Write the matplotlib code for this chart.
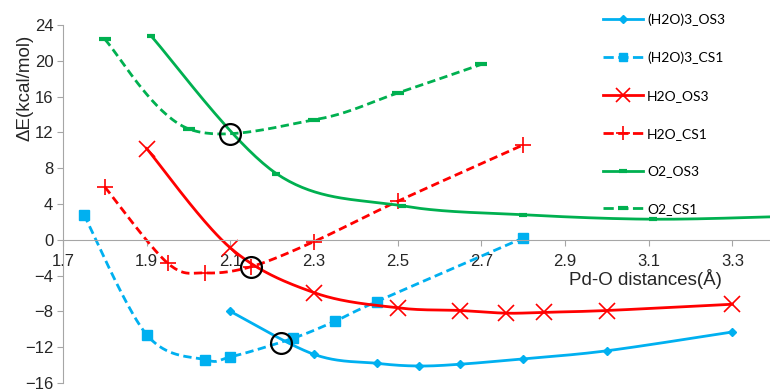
import numpy as np
import matplotlib
matplotlib.use("Agg")
import matplotlib.pyplot as plt
from matplotlib.lines import Line2D

# ---------------------------------------------------------------------------- #
# data (x = Pd-O distance, y = dE in kcal/mol)

w3_os3_x = [2.10, 2.30, 2.45, 2.55, 2.65, 2.80, 3.00, 3.30]
w3_os3_y = [-8.0, -12.8, -13.8, -14.1, -13.9, -13.3, -12.4, -10.3]

w3_cs1_x = [1.75, 1.90, 2.04, 2.10, 2.25, 2.35, 2.45, 2.80]
w3_cs1_y = [2.8, -10.6, -13.4, -13.1, -11.0, -9.1, -6.9, 0.2]

h2o_os3_x = [1.90, 2.10, 2.30, 2.50, 2.65, 2.76, 2.85, 3.00, 3.30]
h2o_os3_y = [10.2, -0.9, -5.9, -7.6, -7.9, -8.2, -8.1, -7.9, -7.2]

h2o_cs1_x = [1.80, 1.95, 2.04, 2.15, 2.30, 2.50, 2.80]
h2o_cs1_y = [5.9, -2.6, -3.7, -3.0, -0.2, 4.3, 10.6]

o2_os3_x = [1.91, 2.21, 2.51, 2.80, 3.11, 3.42]
o2_os3_y = [22.8, 7.4, 3.8, 2.8, 2.3, 2.6]

o2_cs1_x = [1.80, 2.00, 2.30, 2.50, 2.70]
o2_cs1_y = [22.4, 12.4, 13.4, 16.4, 19.6]

# crossing points marked with black circles
cross_x = [2.10, 2.15, 2.22]
cross_y = [11.8, -3.0, -11.5]

labels = ["(H2O)3_OS3", "(H2O)3_CS1", "H2O_OS3", "H2O_CS1", "O2_OS3", "O2_CS1"]

# ---------------------------------------------------------------------------- #
# excel-ish smoothed line (catmull-rom through the points)

def smooth(x, y, n=40):
    p = np.column_stack([x, y]).astype(float)
    p = np.vstack([p[0], p, p[-1]])
    out = []
    t = np.linspace(0, 1, n)[:, None]
    for i in range(1, len(p) - 2):
        p0, p1, p2, p3 = p[i - 1], p[i], p[i + 1], p[i + 2]
        c1 = p1 + (p2 - p0) / 6
        c2 = p2 - (p3 - p1) / 6
        seg = ((1 - t) ** 3) * p1 + 3 * ((1 - t) ** 2) * t * c1 \
            + 3 * (1 - t) * t ** 2 * c2 + t ** 3 * p2
        out.append(seg)
    out = np.vstack(out)
    return out[:, 0], out[:, 1]

blue = "#00B0F0"
red = "#FF0000"
green = "#00B050"

series = [
    (w3_os3_x, w3_os3_y, blue, "-", "D", 4, 1),
    (w3_cs1_x, w3_cs1_y, blue, "--", "s", 7, 1),
    (h2o_os3_x, h2o_os3_y, red, "-", "x", 11, 1.2),
    (h2o_cs1_x, h2o_cs1_y, red, "--", "+", 11, 1.2),
    (o2_os3_x, o2_os3_y, green, "-", "_", 6, 3),
    (o2_cs1_x, o2_cs1_y, green, "--", "_", 8, 3),
]

plt.rcParams["font.family"] = ["Liberation Sans", "DejaVu Sans"]

fig = plt.figure(figsize=(7.7, 3.91), dpi=100)
ax = fig.add_axes([63 / 770, 8 / 391, 1 - 63 / 770, 358 / 391])

handles = []
for (x, y, c, ls, m, ms, mew), lab in zip(series, labels):
    sx, sy = smooth(x, y)
    if ls == "--":
        ax.plot(sx, sy, color=c, lw=2, ls="--", dashes=(3, 1.6))
    else:
        ax.plot(sx, sy, color=c, lw=2)
    ax.plot(x, y, ls="none", marker=m, ms=ms, mew=mew, color=c, mec=c)
    handles.append(Line2D([], [], color=c, ls=ls, lw=2, marker=m, ms=ms * 0.9,
                          mew=mew, mec=c))

ax.plot(cross_x, cross_y, ls="none", marker="o", ms=15, mfc="none",
        mec="black", mew=1.6, zorder=5)

ax.set_xlim(1.7, 3.39)
ax.set_ylim(-16, 24)
ax.set_xticks(np.arange(1.7, 3.31, 0.2))
ax.set_xticklabels(["1.7", "1.9", "2.1", "2.3", "2.5", "2.7", "2.9", "3.1", "3.3"])
ax.set_yticks(np.arange(-16, 25, 4))

for s in ["top", "right"]:
    ax.spines[s].set_visible(False)
ax.spines["bottom"].set_position(("data", 0))
ax.spines["bottom"].set_color("#A6A6A6")
ax.spines["left"].set_color("#A6A6A6")
ax.tick_params(axis="both", colors="#A6A6A6", labelcolor="#262626",
               labelsize=12, length=4)
ax.tick_params(axis="x", pad=6)
ax.tick_params(axis="y", pad=3)

ax.set_ylabel("\u0394E(kcal/mol)", fontsize=13.5, color="#262626")
ax.yaxis.set_label_coords(-30 / 707, 0.824)
fig.text(645 / 770, 1 - 279 / 391, "Pd-O distances(\u00c5)", fontsize=13.5,
         color="#262626", ha="center", va="center")

fig.legend(handles, labels, loc="upper left",
           bbox_to_anchor=(590 / 770, 1 - 1 / 391), frameon=False,
           prop={"family": "Lato", "size": 10}, handlelength=2.9,
           labelspacing=1.85, handletextpad=0.3)

fig.savefig("out.png", dpi=100)
